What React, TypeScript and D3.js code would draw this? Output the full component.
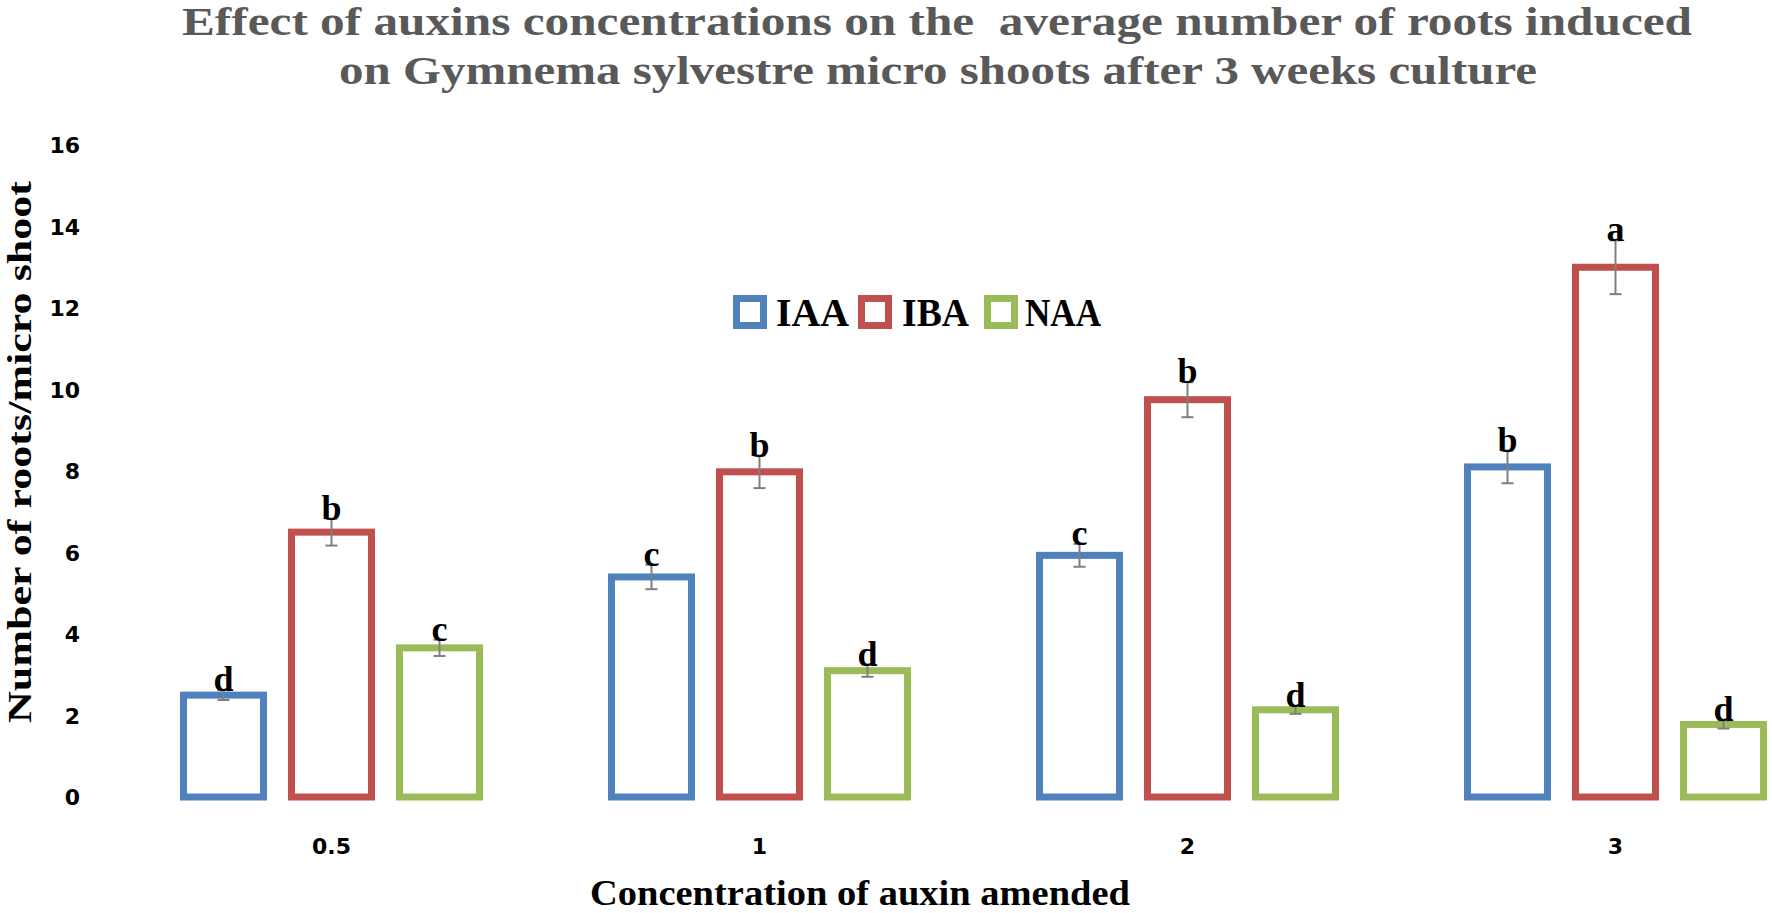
import React from "react";
import * as d3 from "d3";

const categories = ["0.5", "1", "2", "3"];
const seriesNames = ["IAA", "IBA", "NAA"];
const seriesColors = ["#4F81BD", "#C0504D", "#9BBB59"];
const iaaValues = [2.5, 5.4, 5.93, 8.1];
const ibaValues = [6.5, 7.98, 9.75, 13.0];
const naaValues = [3.66, 3.1, 2.14, 1.78];
const iaaErrors = [0.12, 0.3, 0.28, 0.4];
const ibaErrors = [0.33, 0.4, 0.43, 0.66];
const naaErrors = [0.2, 0.15, 0.1, 0.1];
const iaaLetters = ["d", "c", "c", "b"];
const ibaLetters = ["b", "b", "b", "a"];
const naaLetters = ["c", "d", "d", "d"];
const yTicks = [0, 2, 4, 6, 8, 10, 12, 14, 16];
const titleLines = [
  "Effect of auxins concentrations on the  average number of roots induced",
  "on Gymnema sylvestre micro shoots after 3 weeks culture",
];
const xTitle = "Concentration of auxin amended";
const yTitle = "Number of roots/micro shoot";

const W = 1772;
const H = 913;
const SERIF = "'Liberation Serif', 'Times New Roman', serif";
const SANS = "'DejaVu Sans', Verdana, sans-serif";

export default function App() {
  const values = [iaaValues, ibaValues, naaValues];
  const errors = [iaaErrors, ibaErrors, naaErrors];
  const letters = [iaaLetters, ibaLetters, naaLetters];

  const x0 = d3.scaleBand<string>().domain(categories).range([117.5, 117.5 + 4 * 428]).padding(0);
  const groupW = 324;
  const x1 = d3
    .scaleBand<string>()
    .domain(seriesNames)
    .range([0, groupW])
    .paddingInner(21 / 108)
    .paddingOuter(21 / 216);
  const y = d3.scaleLinear().domain([0, 16]).range([797, 145]);
  const sw = 7;
  const bw = x1.bandwidth();

  const bars: any[] = [];
  categories.forEach((c, ci) => {
    const gx = (x0(c) as number) + (x0.bandwidth() - groupW) / 2;
    seriesNames.forEach((s, si) => {
      const v = values[si][ci];
      const e = errors[si][ci];
      const bx = gx + (x1(s) as number);
      const cx = bx + bw / 2;
      const top = y(v);
      const errTop = y(v + e);
      const errBot = y(v - e);
      bars.push(
        <g key={c + s}>
          <rect
            x={bx + sw / 2}
            y={top}
            width={bw - sw}
            height={y(0) - top}
            fill="#fff"
            stroke={seriesColors[si]}
            strokeWidth={sw}
          />
          <line x1={cx} x2={cx} y1={errTop} y2={errBot} stroke="#7F7F7F" strokeWidth={2} />
          <line x1={cx - 6} x2={cx + 6} y1={errTop} y2={errTop} stroke="#7F7F7F" strokeWidth={2} />
          <line x1={cx - 6} x2={cx + 6} y1={errBot} y2={errBot} stroke="#7F7F7F" strokeWidth={2} />
          <text
            x={cx}
            y={errTop + 1}
            textAnchor="middle"
            fontFamily={SERIF}
            fontWeight="bold"
            fontSize={36}
            fill="#000"
          >
            {letters[si][ci]}
          </text>
        </g>
      );
    });
  });

  const legendItems = [
    { sq: 733, tx: 776, tl: 73 },
    { sq: 858, tx: 902, tl: 67 },
    { sq: 984, tx: 1025, tl: 76 },
  ];
  const legendY = 312;

  return (
    <svg
      width={W}
      height={H}
      style={{ position: "absolute", left: 0, top: 0, background: "#fff" }}
    >
      <rect x={0} y={0} width={W} height={H} fill="#fff" />
      {titleLines.map((t, i) => (
        <text
          key={i}
          x={i === 0 ? 182 : 339}
          y={i === 0 ? 35 : 84}
          textLength={i === 0 ? 1510 : 1198}
          lengthAdjust="spacingAndGlyphs"
          fontFamily={SERIF}
          fontWeight="bold"
          fontSize={40}
          fill="#595959"
          style={{ whiteSpace: "pre" }}
        >
          {t}
        </text>
      ))}
      {yTicks.map((t) => (
        <text
          key={t}
          x={80}
          y={y(t) + 8}
          textAnchor="end"
          fontFamily={SANS}
          fontWeight="bold"
          fontSize={22}
          fill="#000"
        >
          {t}
        </text>
      ))}
      {categories.map((c) => (
        <text
          key={c}
          x={(x0(c) as number) + x0.bandwidth() / 2}
          y={854}
          textAnchor="middle"
          fontFamily={SANS}
          fontWeight="bold"
          fontSize={22}
          fill="#000"
        >
          {c}
        </text>
      ))}
      <text
        x={860}
        y={905}
        textAnchor="middle"
        textLength={540}
        lengthAdjust="spacingAndGlyphs"
        fontFamily={SERIF}
        fontWeight="bold"
        fontSize={35}
        fill="#000"
      >
        {xTitle}
      </text>
      <text
        transform="translate(31,452) rotate(-90)"
        textAnchor="middle"
        textLength={542}
        lengthAdjust="spacingAndGlyphs"
        fontFamily={SERIF}
        fontWeight="bold"
        fontSize={34}
        fill="#000"
      >
        {yTitle}
      </text>
      {bars}
      {seriesNames.map((s, i) => (
        <g key={s}>
          <rect
            x={legendItems[i].sq + 3.5}
            y={legendY - 17 + 3.5}
            width={34 - 7}
            height={34 - 7}
            fill="#fff"
            stroke={seriesColors[i]}
            strokeWidth={7}
          />
          <text
            x={legendItems[i].tx}
            y={legendY + 14}
            textLength={legendItems[i].tl}
            lengthAdjust="spacingAndGlyphs"
            fontFamily={SERIF}
            fontWeight="bold"
            fontSize={40}
            fill="#000"
          >
            {s}
          </text>
        </g>
      ))}
    </svg>
  );
}
